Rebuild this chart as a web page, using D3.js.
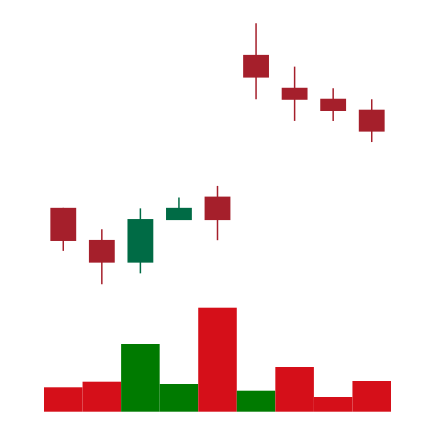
<!DOCTYPE html>
<html>
<head>
<meta charset="utf-8">
<script src="https://cdn.jsdelivr.net/npm/d3@7"></script>
<style>
html,body{margin:0;padding:0;background:#fff;}
svg{display:block;}
</style>
</head>
<body>
<svg id="chart" width="434" height="422"></svg>
<script>
const days = ["D1","D2","D3","D4","D5","D6","D7","D8","D9"];
const open  = [29.3, 17.0,  8.3, 24.6, 33.6, 87.9, 75.3, 71.1, 66.9];
const close = [16.6,  8.3, 25.0, 29.3, 24.6, 79.2, 70.7, 66.4, 58.5];
const high  = [29.3, 21.1, 29.1, 33.3, 37.7,100.0, 83.4, 75.1, 70.9];
const low   = [12.8,  0.0,  4.2, 24.6, 16.9, 70.9, 62.6, 62.6, 54.5];
const volume = [244, 300, 677, 277, 1040, 210, 447, 147, 307];

const svg = d3.select("#chart");

const x = d3.scaleBand().domain(days).range([44, 391]).padding(0);
const y = d3.scaleLinear().domain([0, 100]).range([284.3, 23.3]);
const yv = d3.scaleLinear().domain([0, 1040]).range([411.7, 307.7]);

const candleUp = "#006b45", candleDown = "#a51f2b";
const volUp = "#007a00", volDown = "#d50f19";

// volume bars (colour by close vs previous close)
svg.append("g").selectAll("rect").data(days).join("rect")
  .attr("x", d => x(d))
  .attr("width", x.bandwidth())
  .attr("y", (d,i) => yv(volume[i]))
  .attr("height", (d,i) => yv(0) - yv(volume[i]))
  .attr("fill", (d,i) => (i > 0 && close[i] > close[i-1]) ? volUp : volDown);

const bodyW = x.bandwidth() * 0.67;
const g = svg.append("g");
// wicks
g.selectAll("line").data(days).join("line")
  .attr("x1", d => x(d) + x.bandwidth()/2)
  .attr("x2", d => x(d) + x.bandwidth()/2)
  .attr("y1", (d,i) => y(high[i]))
  .attr("y2", (d,i) => y(low[i]))
  .attr("stroke", (d,i) => close[i] > open[i] ? candleUp : candleDown)
  .attr("stroke-width", 1.5);
// bodies
g.selectAll("rect").data(days).join("rect")
  .attr("x", d => x(d) + (x.bandwidth() - bodyW)/2)
  .attr("width", bodyW)
  .attr("y", (d,i) => y(Math.max(open[i], close[i])))
  .attr("height", (d,i) => Math.abs(y(open[i]) - y(close[i])))
  .attr("fill", (d,i) => close[i] > open[i] ? candleUp : candleDown);
</script>
</body>
</html>
